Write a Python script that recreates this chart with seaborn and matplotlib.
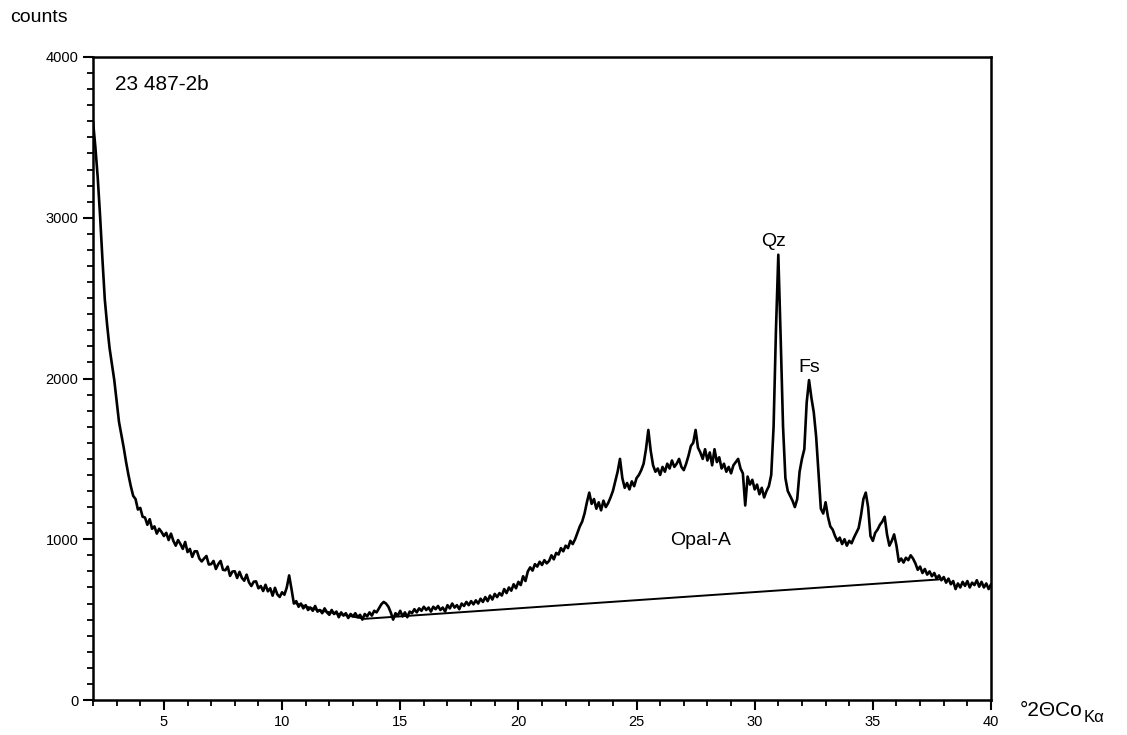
import numpy as np
import pandas as pd
import matplotlib
matplotlib.use("Agg")
import matplotlib.pyplot as plt
from matplotlib.ticker import MultipleLocator
import seaborn as sns

# diffractogram, 0.1 deg steps, one list per stretch
scan_segments = [
    (2.0, [3600, 3440, 3250, 3010, 2740, 2490, 2330, 2190, 2090, 1990,
           1860, 1730, 1650, 1570, 1480, 1400, 1330, 1270]),
    (3.8, [1250, 1185, 1195, 1140, 1135, 1090, 1125, 1065, 1080, 1035,
           1065, 1045, 1020]),
    (5.1, [1040, 995, 1035, 990, 960, 995, 970, 940, 983, 920,
           940, 890, 925, 925, 880, 862, 880, 896, 843, 845,
           865, 815, 845, 865, 810, 807, 830, 772, 799, 801,
           759, 797, 760, 742, 780, 732, 709, 736, 738, 695,
           709, 678, 717, 676, 695, 649, 698, 657, 641, 670]),
    (10.1, [655, 700, 775, 690, 600, 615, 580, 600, 570, 590,
            560, 575, 555, 585, 550, 560, 540, 570, 545, 530,
            560, 535, 550, 515, 545, 525, 540, 510, 535, 520]),
    (13.1, [540, 515, 530, 500, 535, 520, 545, 525, 555, 545,
            570, 595, 610, 600, 580, 545, 500, 540, 525, 555,
            520, 545, 515, 550, 540, 565, 545, 570, 555, 580,
            560, 575, 550, 580, 565, 585, 560, 575, 550, 590,
            570, 600, 575, 590, 565, 600, 585, 610, 590, 615]),
    (18.1, [595, 620, 600, 630, 610, 640, 615, 650, 625, 660,
            640, 665, 650, 690, 665, 700, 680, 720, 695, 735,
            715, 770, 740, 800, 825, 805, 845, 830, 860, 840,
            870, 850, 865, 900, 875, 915, 905, 945, 925, 960,
            945, 990, 970, 1000, 1040]),
    (22.6, [1080, 1110, 1160, 1230, 1290, 1220, 1250, 1190, 1230, 1180,
            1240, 1200, 1225, 1260, 1300, 1360, 1420, 1500, 1380, 1320,
            1350, 1310, 1360, 1330, 1380, 1400, 1430, 1470, 1560, 1680,
            1550, 1460, 1420, 1440, 1400, 1450, 1420, 1470, 1440, 1490,
            1450, 1470, 1500, 1450, 1430, 1470, 1520, 1580, 1600, 1680,
            1570, 1540, 1500, 1560, 1490, 1540, 1460, 1560, 1480, 1510,
            1440, 1470, 1420, 1450, 1410, 1460, 1480, 1500, 1440, 1410,
            1210, 1390, 1340, 1370, 1310, 1340, 1280, 1320, 1260, 1300,
            1330]),
    (30.7, [1400, 1700, 2300, 2770, 2250, 1700, 1380, 1300, 1270, 1240,
            1200, 1250, 1420, 1500, 1560, 1850, 1990, 1880, 1790, 1640,
            1420, 1190, 1160, 1230]),
    (33.1, [1140, 1080, 1060, 1020, 990, 1010, 970, 1000, 960, 990,
            975, 1010, 1040, 1070, 1150, 1250, 1290, 1200, 1020, 990,
            1040, 1060, 1090, 1110, 1140, 1030, 960, 990, 1030, 960,
            860, 880, 855, 885, 870, 900, 880, 850, 810, 830,
            790, 815, 780, 800, 770, 790, 755, 775, 745, 765,
            730, 755, 720, 740, 690, 725, 700, 735, 710, 740,
            700, 730, 715, 745, 705, 735, 700, 725, 690, 720]),
]

# amorphous background line drawn under the opal hump
baseline_2theta = [10.5, 11.5, 13.5, 37.8]
baseline_counts = [605, 560, 505, 750]

x_ticks = [5, 10, 15, 20, 25, 30, 35, 40]
y_ticks = [0, 1000, 2000, 3000, 4000]

rows = []
for start, vals in scan_segments:
    for i, v in enumerate(vals):
        rows.append((round(start + 0.1 * i, 2), v))
scan = pd.DataFrame(rows, columns=["two_theta", "counts"])
base = pd.DataFrame({"two_theta": baseline_2theta, "counts": baseline_counts})

sns.set_style("ticks")
plt.rcParams["font.family"] = ["Liberation Sans", "DejaVu Sans"]
plt.rcParams["text.color"] = "black"

fig = plt.figure(figsize=(11.27, 7.35), dpi=100)
ax = fig.add_axes([93 / 1127, 35 / 735, 898 / 1127, 643 / 735])

sns.lineplot(data=scan, x="two_theta", y="counts", color="black",
             linewidth=1.9, ax=ax, estimator=None, sort=False)
sns.lineplot(data=base, x="two_theta", y="counts", color="black",
             linewidth=1.4, ax=ax, estimator=None, sort=False)

ax.set_xlim(2, 40)
ax.set_ylim(0, 4000)
ax.set_xticks(x_ticks)
ax.set_yticks(y_ticks)
ax.xaxis.set_minor_locator(MultipleLocator(1))
ax.yaxis.set_minor_locator(MultipleLocator(100))
ax.tick_params(which="major", direction="out", length=7, width=1.5,
               labelsize=10.5, color="black", labelcolor="black")
ax.tick_params(which="minor", direction="out", length=4, width=1.3, color="black")
ax.set_xlabel("")
ax.set_ylabel("")
for s in ax.spines.values():
    s.set_linewidth(1.8)
    s.set_color("black")

ax.text(2.95, 3830, "23 487-2b", fontsize=15, ha="left", va="center")
ax.text(30.8, 2855, "Qz", fontsize=14, ha="center", va="center")
ax.text(32.3, 2070, "Fs", fontsize=14, ha="center", va="center")
ax.text(27.7, 990, "Opal-A", fontsize=14, ha="center", va="center")

fig.text(10 / 1127, 1 - 17 / 735, "counts", fontsize=14, ha="left", va="center")
fig.text(1020 / 1127, 1 - 711 / 735, "°2ΘCo", fontsize=15, ha="left", va="center")
fig.text(1084 / 1127, 1 - 718 / 735, "Kα", fontsize=12, ha="left", va="center")

fig.savefig("out.png", dpi=100, facecolor="white")
